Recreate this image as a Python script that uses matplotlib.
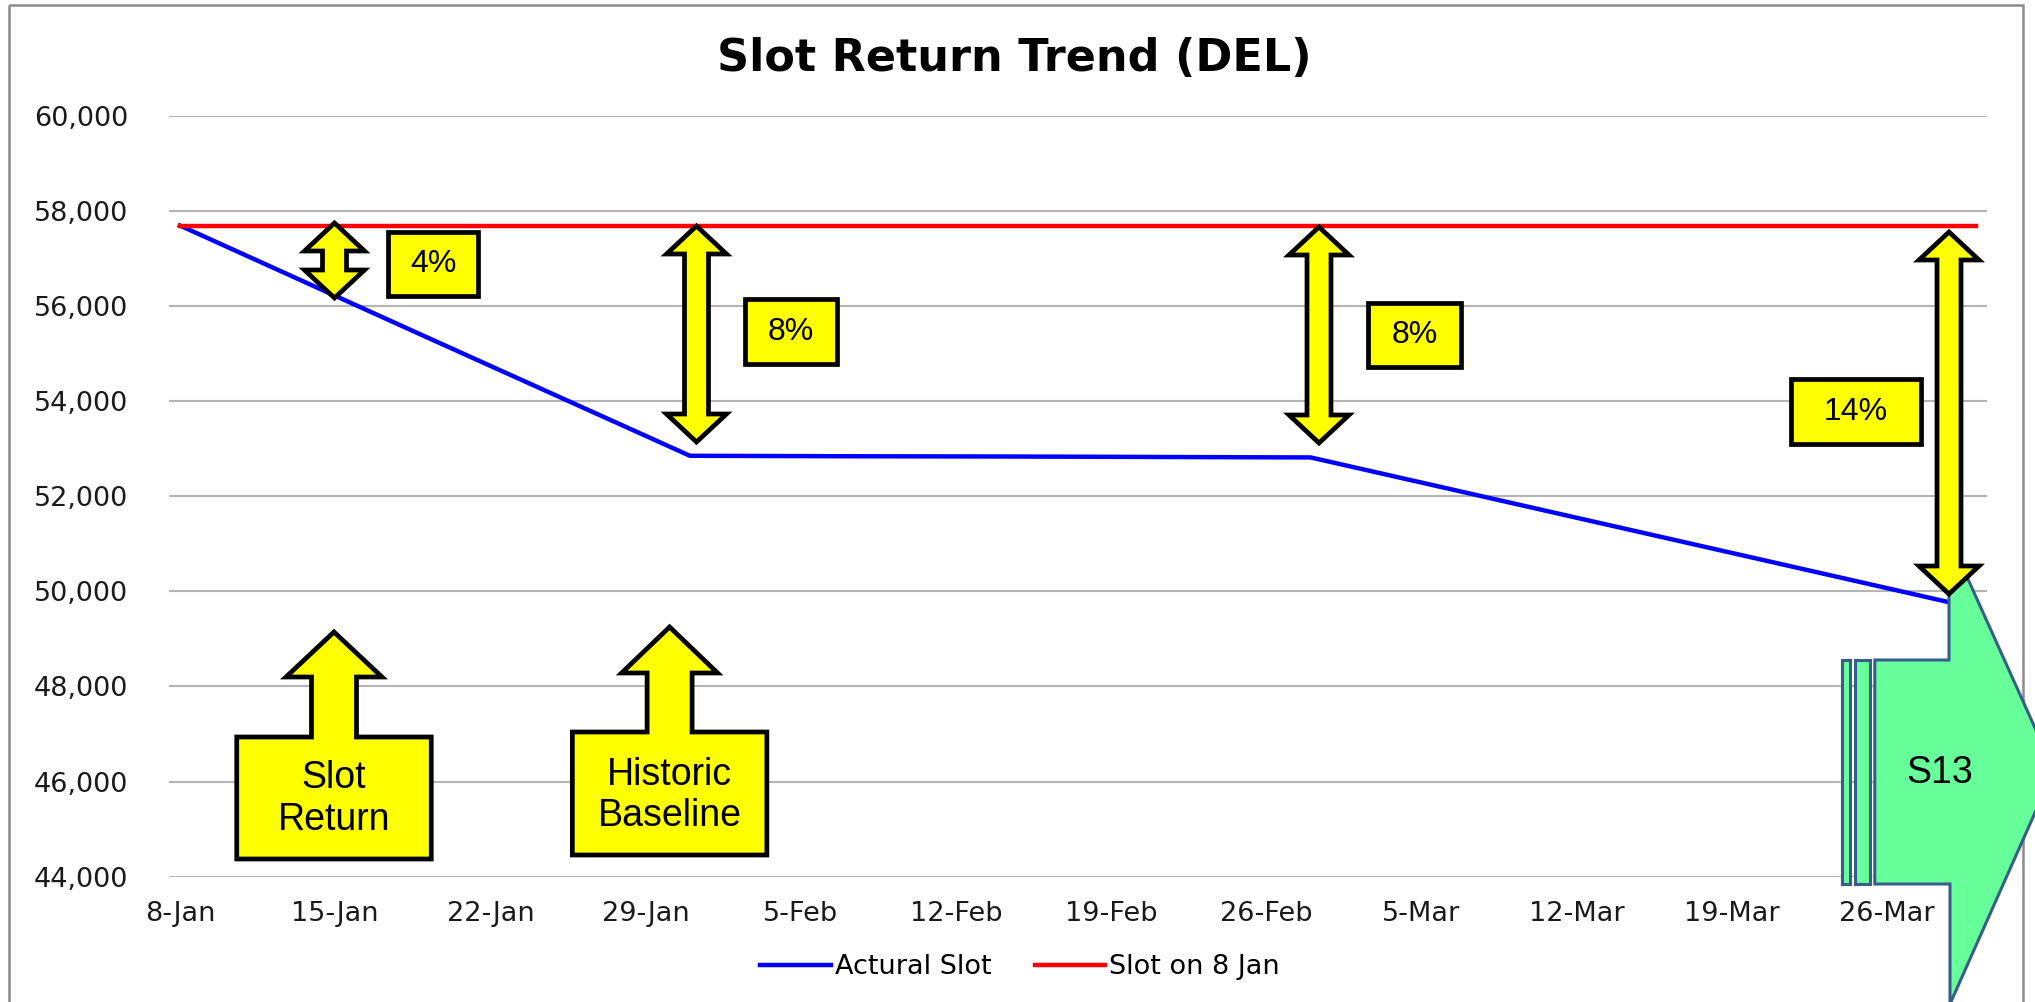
import matplotlib
matplotlib.use('Agg')
import matplotlib.pyplot as plt
import matplotlib.transforms as mtransforms
from matplotlib.patches import Polygon, Rectangle
import pandas as pd

# --- data ---
start = pd.Timestamp('2013-01-08')

actual_dates = ['2013-01-08', '2013-01-19', '2013-01-31', '2013-02-07',
                '2013-02-14', '2013-02-21', '2013-02-28', '2013-03-29']
actual_slots = [57690, 55370, 52850, 52840, 52835, 52825, 52815, 49750]

baseline_dates = ['2013-01-08', '2013-03-30']
baseline_slots = [57690, 57690]

tick_labels = ['8-Jan', '15-Jan', '22-Jan', '29-Jan', '5-Feb', '12-Feb',
               '19-Feb', '26-Feb', '5-Mar', '12-Mar', '19-Mar', '26-Mar']
y_ticks = [44000, 46000, 48000, 50000, 52000, 54000, 56000, 58000, 60000]

gap_labels = ['4%', '8%', '8%', '14%']

W, H = 2035, 1002
CHART_FONT = 'DejaVu Sans'
SHAPE_FONT = 'Liberation Sans'


def day_offset(dates):
    return (pd.to_datetime(dates) - start).days


fig = plt.figure(figsize=(W / 100, H / 100), dpi=100)
# reference pixel coordinates (origin top-left)
px = mtransforms.Affine2D().scale(1 / W, -1 / H).translate(0, 1) + fig.transFigure

ax_left, ax_right, ax_top, ax_bottom = 168.9, 1986.8, 115.7, 876.7
ax = fig.add_axes([ax_left / W, 1 - ax_bottom / H,
                   (ax_right - ax_left) / W, (ax_bottom - ax_top) / H])

ax.plot(day_offset(actual_dates), actual_slots, color='#0000FF', lw=3.2, label='Actural Slot')
ax.plot(day_offset(baseline_dates), baseline_slots, color='#FF0000', lw=3.2, label='Slot on 8 Jan')

ax.set_xlim(-0.5, 81.5)
ax.set_ylim(44000, 60000)
ax.set_yticks(y_ticks)
ax.set_yticklabels([f'{v:,}' for v in y_ticks])
ax.set_xticks(range(0, 7 * len(tick_labels), 7))
ax.set_xticklabels(tick_labels)
ax.yaxis.grid(True, color='#b4b4b4', lw=1.5)
ax.set_axisbelow(True)
for s in ax.spines.values():
    s.set_visible(False)
ax.tick_params(axis='y', length=0, pad=29.5, labelsize=19.5, labelcolor='#1a1a1a')
ax.tick_params(axis='x', length=0, pad=17.5, labelsize=19.5, labelcolor='#1a1a1a')
for lab in ax.get_xticklabels() + ax.get_yticklabels():
    lab.set_family(CHART_FONT)

fig.text(1014 / W, 1 - 71 / H, 'Slot Return Trend (DEL)', ha='center', va='baseline',
         fontsize=32, fontweight='bold', family=CHART_FONT)

leg = fig.legend(loc='center', bbox_to_anchor=(1020 / W, 1 - 967 / H), ncol=2,
                 frameon=False, handlelength=2.6, handletextpad=0.15, columnspacing=1.6,
                 prop={'family': CHART_FONT, 'size': 19.5})

# outer chart frame
fig.add_artist(Rectangle((9, 5), 2014, 1100, transform=px, fill=False,
                         edgecolor='#8c8c8c', lw=1.8))

# --- S13 notched arrow ---
green, steel = '#66FF99', '#385D8A'
for x0, x1 in [(1841.5, 1850.2), (1854.8, 1870.2)]:
    fig.add_artist(Rectangle((x0, 660), x1 - x0, 224, transform=px, facecolor=green,
                             edgecolor=steel, lw=2.2, zorder=1.1))
s13 = [(1874.8, 660), (1949, 660), (1949, 537), (2054, 770), (1950, 1004),
       (1950, 884), (1874.8, 884)]
fig.add_artist(Polygon(s13, closed=True, transform=px, facecolor=green,
                       edgecolor=steel, lw=2.2, zorder=1.1))
fig.text(1940 / W, 1 - 773 / H, 'S13', ha='center', va='center', fontsize=27,
         family=SHAPE_FONT, zorder=3)


# --- yellow up-arrow callouts ---
def up_callout(cx, tip, head_base, body_top, body_bot, body_w=194.5, neck_w=45, head_w=96):
    bw, nw, hw = body_w / 2, neck_w / 2, head_w / 2
    pts = [(cx - bw, body_bot), (cx - bw, body_top), (cx - nw, body_top), (cx - nw, head_base),
           (cx - hw, head_base), (cx, tip), (cx + hw, head_base), (cx + nw, head_base),
           (cx + nw, body_top), (cx + bw, body_top), (cx + bw, body_bot)]
    fig.add_artist(Polygon(pts, closed=True, transform=px, facecolor='#FFFF00',
                           edgecolor='black', lw=3.4, joinstyle='miter', zorder=2))


up_callout(334, 632, 677, 737, 859)
fig.text(334 / W, 1 - 799 / H, 'Slot\nReturn', ha='center', va='center', fontsize=27,
         family=SHAPE_FONT, linespacing=1.2, zorder=3)
up_callout(669.6, 627, 673, 732, 855)
fig.text(669.6 / W, 1 - 795.5 / H, 'Historic\nBaseline', ha='center', va='center', fontsize=27,
         family=SHAPE_FONT, linespacing=1.2, zorder=3)


# --- yellow double arrows showing the gap ---
def double_arrow(xc, top, bot, shaft_w=24, head_w=60, head_len=28):
    sw, hw = shaft_w / 2, head_w / 2
    pts = [(xc, top), (xc + hw, top + head_len), (xc + sw, top + head_len),
           (xc + sw, bot - head_len), (xc + hw, bot - head_len), (xc, bot),
           (xc - hw, bot - head_len), (xc - sw, bot - head_len),
           (xc - sw, top + head_len), (xc - hw, top + head_len)]
    fig.add_artist(Polygon(pts, closed=True, transform=px, facecolor='#FFFF00',
                           edgecolor='black', lw=3.4, joinstyle='miter', zorder=2))


double_arrow(334.5, 223, 298)
double_arrow(696.5, 226, 442)
double_arrow(1319, 227, 443)
double_arrow(1949, 232, 594)

boxes = [(388, 232, 478, 296), (745, 299, 837, 364), (1368, 303, 1461, 367), (1791, 379, 1921, 444)]
for (x0, y0, x1, y1), lab in zip(boxes, gap_labels):
    fig.add_artist(Rectangle((x0, y0), x1 - x0, y1 - y0, transform=px, facecolor='#FFFF00',
                             edgecolor='black', lw=3.4, joinstyle='miter', zorder=2))
    fig.text((x0 + x1) / 2 / W, 1 - (y0 + y1) / 2 / H, lab, ha='center', va='center',
             fontsize=23, family=SHAPE_FONT, zorder=3)

fig.savefig('out.png', dpi=100)
